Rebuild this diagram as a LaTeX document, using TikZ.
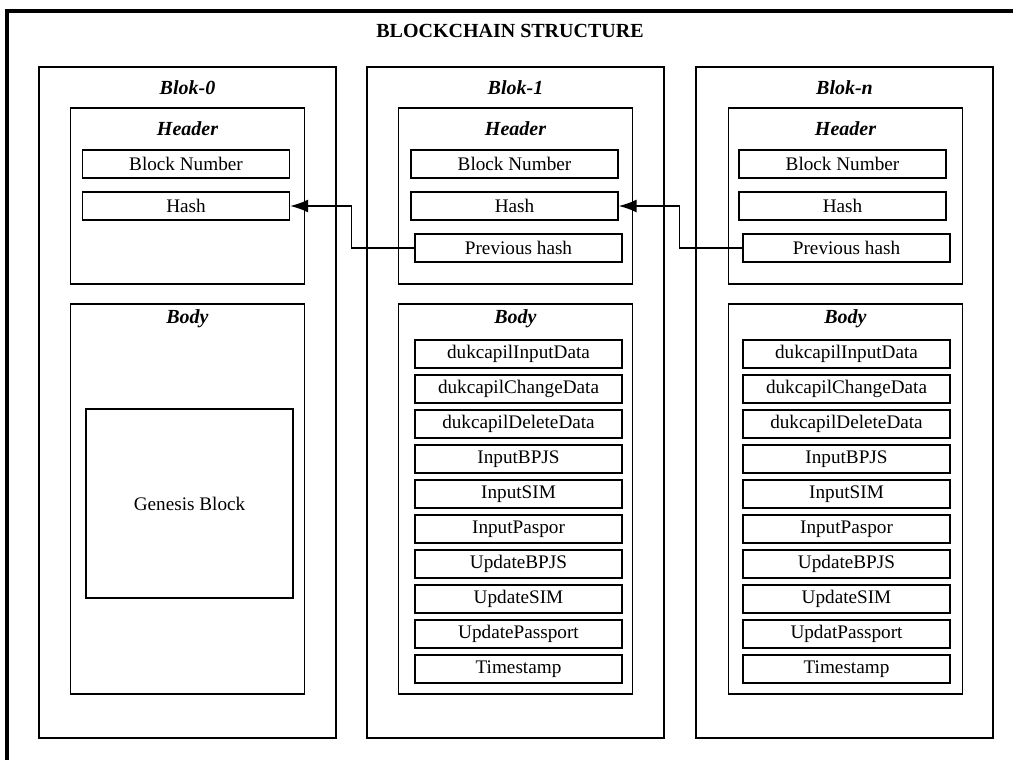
\documentclass[tikz,border=0pt]{standalone}
\usepackage{fontspec}
\setmainfont{Liberation Serif}
\usetikzlibrary{arrows.meta}

\tikzset{
  chainframe/.style={draw, line width=1.1pt, minimum width=148.5pt, minimum height=335.5pt, inner sep=0pt},
  blkpart/.style={draw, line width=0.6pt, minimum width=117pt, inner sep=0pt},
  field/.style={draw, line width=0.6pt, minimum width=103.5pt, minimum height=14pt, inner sep=0pt,
    font=\fontsize{9.6}{11}\selectfont},
  blktitle/.style={font=\bfseries\itshape},
}

\begin{document}
\begin{tikzpicture}[x=0.5pt, y=-0.5pt, >={Latex[length=9pt,width=6.5pt]}]
  \useasboundingbox (0,0) rectangle (1013,760);
  % outer frame, runs past the page on the right and at the bottom
  \draw[line width=1.7pt] (7,11) rectangle (1040,790);
  \node (title) at (510,31) {\bfseries BLOCKCHAIN STRUCTURE};

  % blocks
  \node[chainframe] (blk0) at (187.5,402.5) {};
  \node[chainframe] (blk1) at (515.5,402.5) {};
  \node[chainframe] (blkn) at (844.5,402.5) {};
  \node[blktitle] (t0) at (187.5,88) {Blok-0};
  \node[blktitle] (t1) at (515.5,88) {Blok-1};
  \node[blktitle] (tn) at (844.5,88) {Blok-n};

  % headers
  \node[blkpart, minimum height=88pt] (h0) at (187.5,196) {};
  \node[blkpart, minimum height=88pt] (h1) at (515.5,196) {};
  \node[blkpart, minimum height=88pt] (hn) at (845.5,196) {};
  \node[blktitle] (ht0) at (187.5,129) {Header};
  \node[blktitle] (ht1) at (515.5,129) {Header};
  \node[blktitle] (htn) at (845.5,129) {Header};

  \node[field] (b0num)  at (186,164)   {Block Number};
  \node[field] (b0hash) at (186,206)   {Hash};
  \node[field] (b1num)  at (514.5,164) {Block Number};
  \node[field] (b1hash) at (514.5,206) {Hash};
  \node[field] (b1prev) at (518.5,248) {Previous hash};
  \node[field] (bnnum)  at (842.5,164) {Block Number};
  \node[field] (bnhash) at (842.5,206) {Hash};
  \node[field] (bnprev) at (846.5,248) {Previous hash};

  % bodies
  \node[blkpart, minimum height=195pt] (d0) at (187.5,499) {};
  \node[blkpart, minimum height=195pt] (d1) at (515.5,499) {};
  \node[blkpart, minimum height=195pt] (dn) at (845.5,499) {};
  \node[blktitle] (dt0) at (187.5,319) {Body};
  \node[blktitle] (dt1) at (515.5,319) {Body};
  \node[blktitle] (dtn) at (845.5,319) {Body};

  \node[field, minimum height=94.5pt] (genesis) at (189.5,503.5) {Genesis Block};

  \foreach \txt [count=\i] in {dukcapilInputData, dukcapilChangeData,
      dukcapilDeleteData, InputBPJS, InputSIM, InputPaspor, UpdateBPJS,
      UpdateSIM, UpdatePassport, Timestamp}
    \node[field] (b1i\i) at (518.5,319+35*\i) {\txt};
  \foreach \txt [count=\i] in {dukcapilInputData, dukcapilChangeData,
      dukcapilDeleteData, InputBPJS, InputSIM, InputPaspor, UpdateBPJS,
      UpdateSIM, UpdatPassport, Timestamp}
    \node[field] (bni\i) at (846.5,319+35*\i) {\txt};

  % links to the previous block
  \draw[->, line width=0.9pt] (b1prev.west) -- ++(-63,0) |- (b0hash.east);
  \draw[->, line width=0.9pt] (bnprev.west) -- ++(-63,0) |- (b1hash.east);
\end{tikzpicture}
\end{document}
